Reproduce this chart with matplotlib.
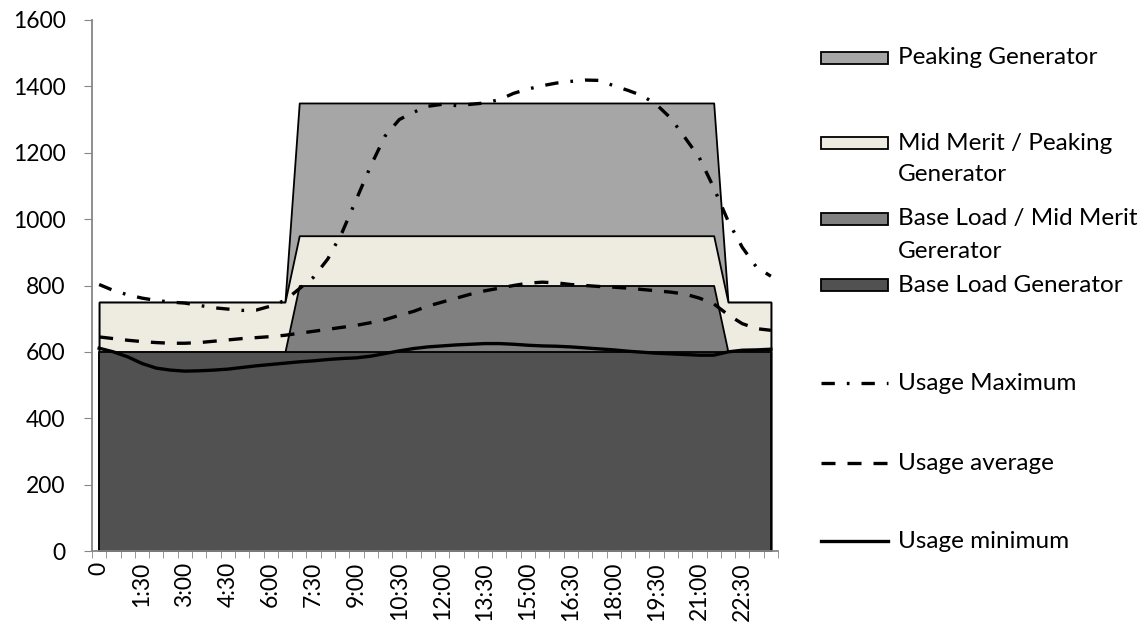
import numpy as np
import matplotlib.pyplot as plt
from matplotlib.patches import Rectangle
from matplotlib.lines import Line2D

plt.rcParams['font.family'] = ['Lato', 'DejaVu Sans']

# half-hour categories, 0 .. 23:30
times = ["0"] + [f"{i // 2}:{(i % 2) * 30:02d}" for i in range(1, 48)]

# generator capacity bands (step profiles)
peaking = [750] * 14 + [1350] * 30 + [750] * 4
mid_peaking = [750] * 14 + [950] * 30 + [750] * 4
base_mid = [600] * 14 + [800] * 30 + [600] * 4
base_load = [600] * 48

# usage curves
usage_max = [803, 785, 772, 762, 755, 750, 747, 740, 733, 729, 725, 726,
             738, 755, 790, 825, 880, 960, 1060, 1160, 1250, 1300, 1322, 1340,
             1346, 1342, 1346, 1350, 1360, 1379, 1392, 1402, 1410, 1415, 1419, 1418,
             1402, 1388, 1372, 1345, 1304, 1245, 1185, 1095, 995, 915, 855, 828]
usage_avg = [645, 640, 635, 631, 628, 626, 626, 628, 632, 636, 640, 643,
             646, 650, 656, 662, 668, 674, 680, 688, 697, 710, 722, 738,
             750, 762, 774, 784, 792, 800, 807, 810, 808, 803, 800, 797,
             795, 792, 788, 784, 780, 774, 762, 745, 712, 685, 670, 665]
usage_min = [611, 600, 585, 565, 551, 545, 542, 543, 545, 548, 553, 558,
             562, 566, 570, 573, 577, 580, 582, 587, 595, 603, 610, 615,
             618, 621, 623, 625, 625, 623, 620, 618, 617, 615, 612, 609,
             606, 602, 599, 596, 594, 592, 590, 590, 600, 605, 606, 608]

W, H = 1146, 628
fig = plt.figure(figsize=(W / 100, H / 100), dpi=100)
ax = fig.add_axes([92 / W, 1 - 551 / H, (778 - 92) / W, (551 - 20) / H])

x = np.arange(len(times))

areas = [
    ("Peaking Generator", peaking, "#a6a6a6"),
    ("Mid Merit / Peaking\nGenerator", mid_peaking, "#eeece1"),
    ("Base Load / Mid Merit\nGererator", base_mid, "#808080"),
    ("Base Load Generator", base_load, "#515151"),
]
for name, vals, col in areas:
    ax.fill_between(x, 0, vals, facecolor=col, edgecolor="black", linewidth=1.3)

lw = 2.4
ax.plot(x, usage_max, color="black", lw=lw, dashes=(4, 3.6, 0.8, 3.6))
ax.plot(x, usage_avg, color="black", lw=lw, dashes=(4.2, 3.6))
ax.plot(x, usage_min, color="black", lw=lw)

fs = 16.5
ax.set_xlim(-0.5, 47.5)
ax.set_ylim(0, 1600)
ax.set_yticks(range(0, 1601, 200))
ax.set_xticks(x[::3])
ax.set_xticklabels(times[::3], rotation=90, fontsize=fs)
ax.set_xticks(np.arange(-0.5, 48, 1), minor=True)
ax.tick_params(axis="x", which="major", length=0, pad=8)
ax.tick_params(axis="x", which="minor", length=5, color="#868686", direction="out")
ax.tick_params(axis="y", length=6, color="#868686", labelsize=fs, pad=13)

for s in ["top", "right"]:
    ax.spines[s].set_visible(False)
for s in ["left", "bottom"]:
    ax.spines[s].set_color("#868686")
    ax.spines[s].set_linewidth(1.3)
    ax.spines[s].set_zorder(5)


# legend drawn by hand to keep Excel's spacing
def fx(px):
    return px / W


def fy(py):
    return 1 - py / H


key_x0, key_x1, text_x = 821, 888, 898
fsl = 17.5
area_rows = [[58], [143, 174], [219, 251], [285]]
for (name, vals, col), rows in zip(areas, area_rows):
    fig.add_artist(Rectangle((fx(key_x0), fy(rows[0] + 6)), fx(key_x1) - fx(key_x0),
                             12 / H, facecolor=col, edgecolor="black", lw=1.3,
                             transform=fig.transFigure))
    for part, yy in zip(name.split("\n"), rows):
        fig.text(fx(text_x), fy(yy), part, fontsize=fsl, va="center", ha="left")

line_rows = [("Usage Maximum", (4, 3.6, 0.8, 3.6), 383),
             ("Usage average", (4.2, 3.6), 463),
             ("Usage minimum", None, 541)]
for name, dsh, yy in line_rows:
    ln = Line2D([fx(key_x0), fx(key_x1)], [fy(yy), fy(yy)], color="black", lw=lw,
                transform=fig.transFigure)
    if dsh:
        ln.set_dashes(dsh)
    fig.add_artist(ln)
    fig.text(fx(text_x), fy(yy), name, fontsize=fsl, va="center", ha="left")

fig.savefig("out.png", dpi=100)
